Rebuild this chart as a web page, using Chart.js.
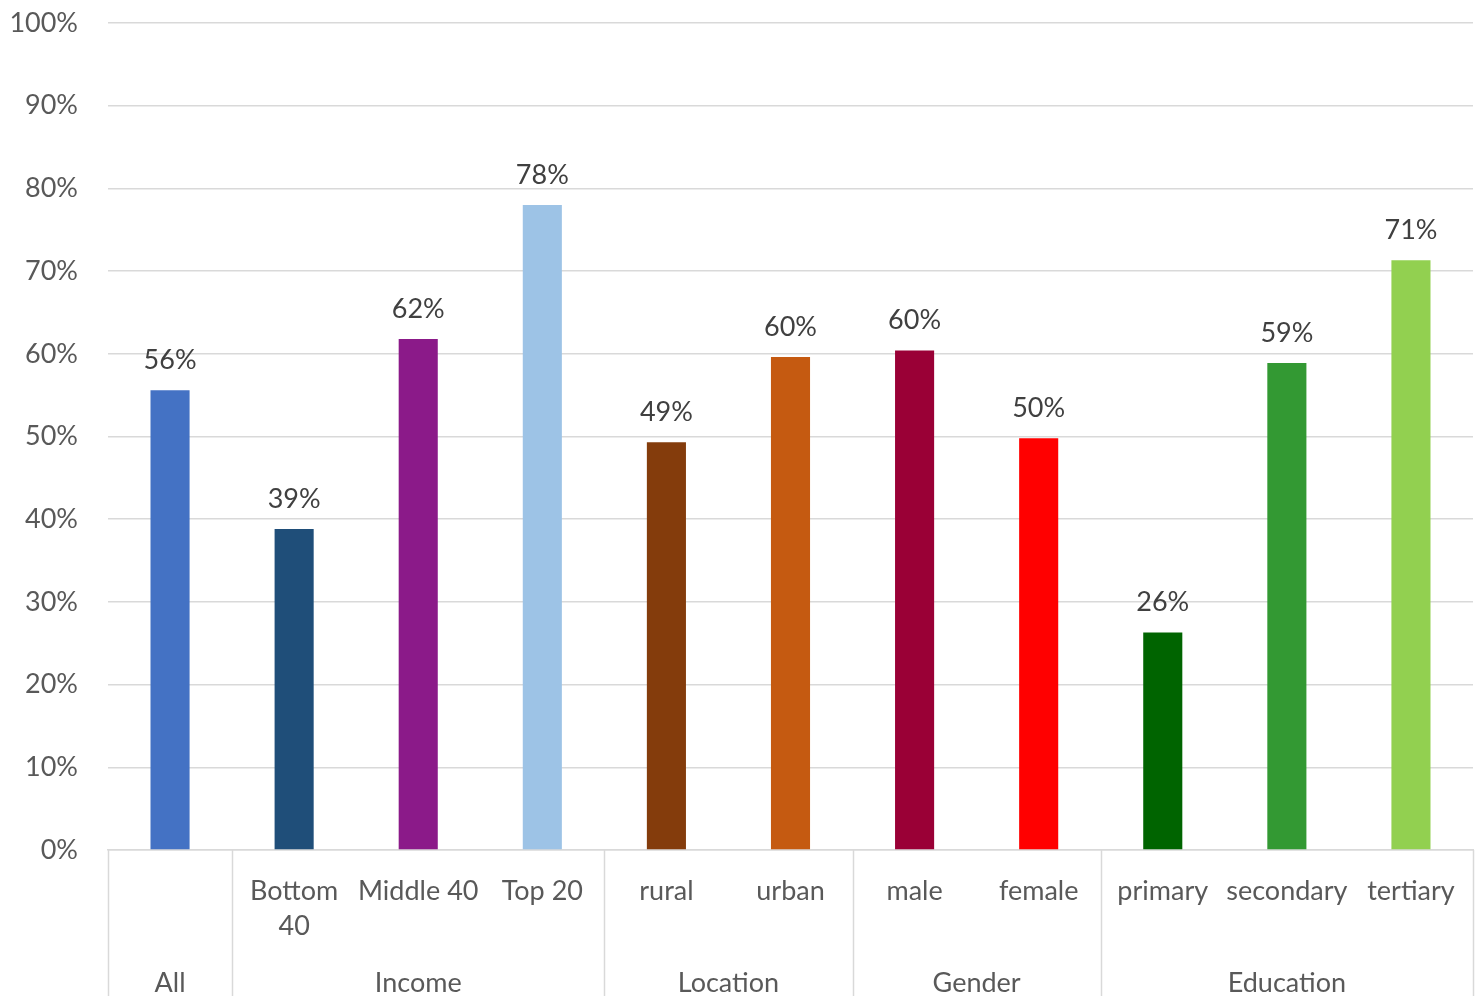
<!DOCTYPE html>
<html>
<head>
<meta charset="utf-8">
<script src="https://cdn.jsdelivr.net/npm/chart.js@4/dist/chart.umd.min.js"></script>
<style>
  html, body { margin: 0; padding: 0; background: #ffffff; }
  canvas { display: block; }
</style>
</head>
<body>
<canvas id="chart" width="1479" height="996"></canvas>
<script>
// Category labels (multi-line where the label wraps)
const categories = ['All', ['Bottom', '40'], 'Middle 40', 'Top 20', 'rural', 'urban', 'male', 'female', 'primary', 'secondary', 'tertiary'];
// Share of respondents, in percent
const values = [55.6, 38.8, 61.8, 78.0, 49.3, 59.6, 60.4, 49.8, 26.3, 58.9, 71.3];
const barColors = ['#4472C4', '#1F4E79', '#8B1A89', '#9DC3E6', '#843C0C', '#C55A11', '#9A0036', '#FF0000', '#006400', '#339933', '#92D050'];
// Outer grouping of the categories
const groupNames = ['All', 'Income', 'Location', 'Gender', 'Education'];
const groupSizes = [1, 3, 2, 2, 3];
const yTicks = [0, 10, 20, 30, 40, 50, 60, 70, 80, 90, 100];

const FONT = 'Lato, "Open Sans", sans-serif';
const AXIS_COLOR = '#595959';
const LINE_COLOR = '#D9D9D9';

// Indices of categories that form a group on their own (their name shows only in the group row)
const singletons = new Set();
(() => { let i = 0; groupSizes.forEach(n => { if (n === 1) singletons.add(i); i += n; }); })();

// Value labels above each bar
const valueLabels = {
  id: 'valueLabels',
  afterDatasetsDraw(chart) {
    const ctx = chart.ctx;
    const meta = chart.getDatasetMeta(0);
    ctx.save();
    ctx.font = '27px ' + FONT;
    ctx.fillStyle = '#404040';
    ctx.textAlign = 'center';
    ctx.textBaseline = 'middle';
    meta.data.forEach((bar, i) => {
      ctx.fillText(Math.round(values[i]) + '%', bar.x, bar.y - 30);
    });
    ctx.restore();
  }
};

// Group separators and group names under the category labels
const groupAxis = {
  id: 'groupAxis',
  afterDraw(chart) {
    const ctx = chart.ctx;
    const area = chart.chartArea;
    const step = (area.right - area.left) / categories.length;
    const edge = (i) => area.left + i * step;
    ctx.save();
    ctx.strokeStyle = LINE_COLOR;
    ctx.lineWidth = 1.5;
    let idx = 0;
    const bounds = [0];
    groupSizes.forEach(n => { idx += n; bounds.push(idx); });
    bounds.forEach(b => {
      const px = Math.round(edge(b)) + 0.5;
      ctx.beginPath();
      ctx.moveTo(px, area.bottom);
      ctx.lineTo(px, chart.height);
      ctx.stroke();
    });
    ctx.font = '27px ' + FONT;
    ctx.fillStyle = AXIS_COLOR;
    ctx.textAlign = 'center';
    ctx.textBaseline = 'middle';
    groupNames.forEach((name, g) => {
      const cx = (edge(bounds[g]) + edge(bounds[g + 1])) / 2;
      ctx.fillText(name, cx, 983);
    });
    ctx.restore();
  }
};

new Chart(document.getElementById('chart'), {
  type: 'bar',
  data: {
    labels: categories,
    datasets: [{
      data: values,
      backgroundColor: barColors,
      borderWidth: 0,
      categoryPercentage: 1,
      barPercentage: 0.315
    }]
  },
  options: {
    responsive: false,
    animation: false,
    layout: { padding: { top: 23, right: 6, left: 0, bottom: 0 } },
    plugins: { legend: { display: false }, tooltip: { enabled: false } },
    scales: {
      x: {
        grid: { display: false, drawTicks: false },
        border: { display: true, color: LINE_COLOR, width: 1.5 },
        ticks: {
          color: AXIS_COLOR,
          font: { family: FONT, size: 27, lineHeight: 1.3 },
          padding: 24,
          maxRotation: 0,
          autoSkip: false,
          callback(value, index) { return singletons.has(index) ? '' : this.getLabelForValue(value); }
        },
        afterFit(scale) {
          scale.height = 146;
          scale.paddingLeft = 0;
          scale.paddingRight = 0;
        }
      },
      y: {
        min: 0,
        max: 100,
        afterBuildTicks(scale) { scale.ticks = yTicks.map(v => ({ value: v })); },
        grid: { color: LINE_COLOR, lineWidth: 1.5, drawTicks: false },
        border: { display: false },
        ticks: {
          color: AXIS_COLOR,
          font: { family: FONT, size: 27 },
          padding: 30,
          callback: (v) => v + '%'
        },
        afterFit(scale) {
          scale.width = 108;
          scale.paddingTop = 0;
          scale.paddingBottom = 0;
        }
      }
    }
  },
  plugins: [valueLabels, groupAxis]
});
</script>
</body>
</html>
